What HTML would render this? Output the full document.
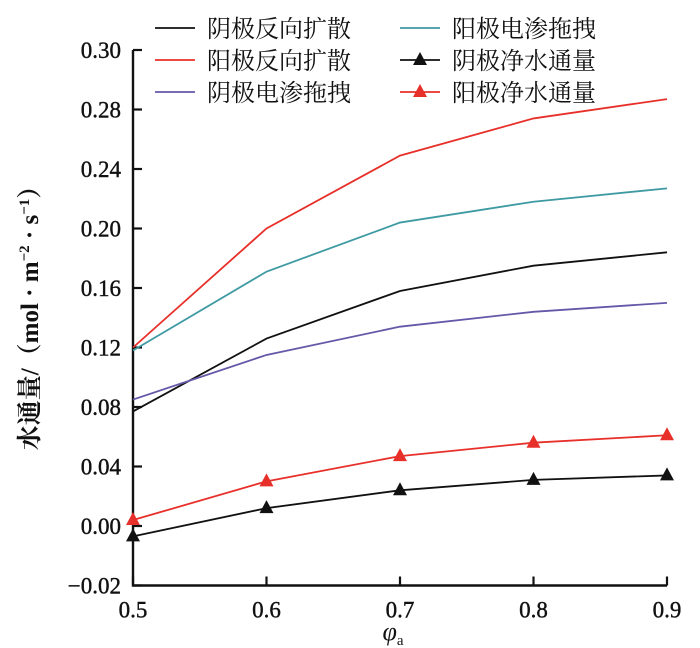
<!DOCTYPE html>
<html><head><meta charset="utf-8"><style>
body{margin:0;background:#fff}
svg{display:block}
text{font-family:"Liberation Serif","Noto Serif CJK SC",serif;fill:#111}
.tk{stroke:#111;stroke-width:0.4}
</style></head><body>
<svg id="c" width="700" height="648"></svg>
<script>
const xs=[0.5,0.6,0.7,0.8,0.9];
const cathodeDiff=[0.077,0.126,0.158,0.175,0.184];
const anodeDiff=[0.120,0.200,0.249,0.274,0.287];
const anodeDrag=[0.118,0.171,0.204,0.218,0.227];
const cathodeDrag=[0.085,0.115,0.134,0.144,0.150];
const anodeNet=[0.004,0.030,0.047,0.056,0.061];
const cathodeNet=[-0.007,0.012,0.024,0.031,0.034];
const yTickVals=[-0.04,0,0.04,0.08,0.12,0.16,0.20,0.24,0.28,0.32];
const yTickLabels=["\u22120.02","0.00","0.04","0.08","0.12","0.16","0.20","0.24","0.28","0.30"];
const xTickVals=[0.5,0.6,0.7,0.8,0.9];
const xTickLabels=["0.5","0.6","0.7","0.8","0.9"];
const NS="http://www.w3.org/2000/svg";
const svg=document.getElementById('c');
const X=v=>133+(v-0.5)/0.4*534;
const Y=v=>526-v/0.04*59.5;
function mk(t,a,p){const e=document.createElementNS(NS,t);for(const k in a)e.setAttribute(k,a[k]);(p||svg).appendChild(e);return e;}
let ax=mk('path',{d:`M${X(0.5)},${Y(0.32)}V${Y(-0.04)}H${X(0.9)}`,stroke:'#111','stroke-width':2.4,fill:'none'});


yTickVals.forEach((v,i)=>{
 const t=mk('line',{x1:X(0.5),x2:X(0.5)+9,y1:Y(v),y2:Y(v),stroke:'#111','stroke-width':2.2});
 
 
 const l=mk('text',{x:X(0.5)-12,y:Y(v)+8,'text-anchor':'end','font-size':23,class:'tk'});
 l.textContent=yTickLabels[i];
 
 
});
xTickVals.forEach((v,i)=>{
 const t=mk('line',{x1:X(v),x2:X(v),y1:Y(-0.04),y2:Y(-0.04)-9,stroke:'#111','stroke-width':2.2});
 
 
 const l=mk('text',{x:X(v),y:Y(-0.04)+32,'text-anchor':'middle','font-size':23,class:'tk'});
 l.textContent=xTickLabels[i];
 
 
});
function series(vals,color,name,marker){
 const d=vals.map((v,i)=>(i?'L':'M')+X(xs[i])+','+Y(v)).join('');
 const p=mk('path',{d,stroke:color,'stroke-width':1.8,fill:'none'});
 
 
 if(marker)vals.forEach((v,i)=>{const cx=X(xs[i]),cy=Y(v);
  const m=mk('path',{d:`M${cx},${cy-8}L${cx+7},${cy+5}L${cx-7},${cy+5}Z`,fill:color});
  
  });
}
series(cathodeDiff,'#111','cathode-back-diffusion-line');
series(anodeDiff,'#e8302a','anode-back-diffusion-line');
series(anodeDrag,'#3f9aa3','anode-electro-osmotic-line');
series(cathodeDrag,'#6657a8','cathode-electro-osmotic-line');
series(anodeNet,'#e8302a','anode-net-flux-line',true);
series(cathodeNet,'#111','cathode-net-flux-line',true);
const leg=[[155,28,'#111','阴极反向扩散',0],[155,60,'#e8302a','阳极反向扩散',0],[155,92,'#6657a8','阴极电渗拖拽',0],
[400,28,'#3f9aa3','阳极电渗拖拽',0],[400,60,'#111','阴极净水通量',1],[400,92,'#e8302a','阳极净水通量',1]];
leg.forEach(([x,y,c,t,m])=>{
 const g=mk('g',{});
 
 
 mk('line',{x1:x,x2:x+40,y1:y,y2:y,stroke:c,'stroke-width':1.8},g);
 if(m)mk('path',{d:`M${x+20},${y-8}L${x+27},${y+5}L${x+13},${y+5}Z`,fill:c},g);
 const tx=mk('text',{x:x+52,y:y+9,'font-size':24},g);tx.textContent=t;
});
const yt=mk('text',{transform:'translate(38,312) rotate(-90)','text-anchor':'middle','font-size':25,'font-weight':'bold'});
yt.innerHTML='水通量/（mol · m<tspan font-size="15" dy="-9">−2</tspan><tspan dy="9"> · s</tspan><tspan font-size="15" dy="-9">−1</tspan><tspan dy="9">）</tspan>';


const xt=mk('text',{x:393,y:640,'text-anchor':'middle','font-size':26,'font-style':'italic'});
xt.innerHTML='φ<tspan font-size="15" font-style="normal" dy="5">a</tspan>';


</script>
</body></html>
